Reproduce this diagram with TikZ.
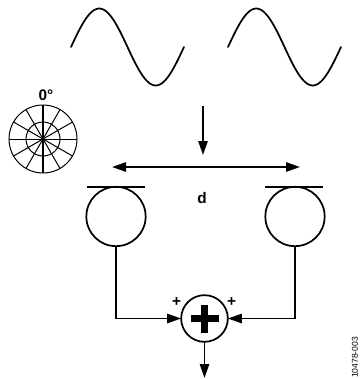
\documentclass[tikz,border=0pt]{standalone}
\usepackage{fontspec}
\setmainfont{Liberation Sans}
\usetikzlibrary{
    arrows.meta,
    positioning
}
\tikzset{
    wire/.style={line width=1.3pt, black},
    flowarrow/.style={wire, -{Triangle[length=10.5pt, width=7pt]}},
    biarrow/.style={wire, {Triangle[length=10.5pt, width=7pt]}-{Triangle[length=10.5pt, width=7pt]}},
    wave/.style={line width=1.3pt, black, line cap=round},
    mic/.style={circle, draw, line width=1.3pt, minimum size=44.5pt, inner sep=0pt, outer sep=0pt},
    summer/.style={circle, draw, line width=1.3pt, minimum size=35pt, inner sep=0pt, outer sep=0pt},
    note/.style={font=\bfseries\fontsize{11.5}{13}\selectfont, inner sep=0pt},
    sign/.style={font=\bfseries\fontsize{11.5}{13}\selectfont, inner sep=0pt},
    spoke/.style={line width=0.75pt, black}
}
\begin{document}
\begin{tikzpicture}[x=0.75pt, y=-0.75pt]
    \useasboundingbox (0,0) rectangle (361,379);
    % incoming waves
    \foreach \xs in {71,228}{
        \draw[wave] plot[domain=0:360, samples=61, smooth] ({\xs+\x/360*113},{47-38.5*sin(\x)});
    }
    % polar pattern
    \draw[spoke] (43,139) circle (34);
    \draw[spoke] (43,139) circle (17);
    \foreach \a in {0,30,...,150}{
        \draw[spoke] ({43+34*cos(\a)},{139-34*sin(\a)}) -- ({43-34*cos(\a)},{139+34*sin(\a)});
    }
    \draw[line width=1.1pt] (43,105) -- (43,173);
    \node[note] (zero) at (46,95) {0°};
    % spacing
    \coordinate (src) at (203,106);
    \coordinate (tip) at (203,155);
    \draw[flowarrow] (src) -- (tip);
    \coordinate (dl) at (112,167);
    \coordinate (dr) at (300,167);
    \draw[biarrow] (dl) -- (dr);
    \node[note] (dist) at (202,198) {d};
    % microphones
    \node[mic] (micl) at (116,216.5) {};
    \node[mic] (micr) at (295,216.5) {};
    \draw[wire] ([xshift=-21.75pt]micl.north) -- ([xshift=21.75pt]micl.north);
    \draw[wire] ([xshift=-22.5pt]micr.north) -- ([xshift=21pt]micr.north);
    % summing junction
    \node[summer] (sum) at (204.5,318.5) {};
    \draw[line width=5.2pt] ([xshift=-10.5pt]sum.center) -- ([xshift=10.5pt]sum.center);
    \draw[line width=5.2pt] ([yshift=-10.5pt]sum.center) -- ([yshift=10.5pt]sum.center);
    \draw[flowarrow] (micl.south) |- (sum.west);
    \draw[flowarrow] (micr.south) |- (sum.east);
    \coordinate (out) at (204.5,378);
    \draw[flowarrow] (sum.south) -- (out);
    \node[sign] (pl) at (176.5,302) {+};
    \node[sign] (pr) at (231.5,302) {+};
    \node[font=\fontsize{6.4}{8}\selectfont, inner sep=0pt, rotate=90] (code) at (355,357.5) {10478-003};
\end{tikzpicture}
\end{document}
